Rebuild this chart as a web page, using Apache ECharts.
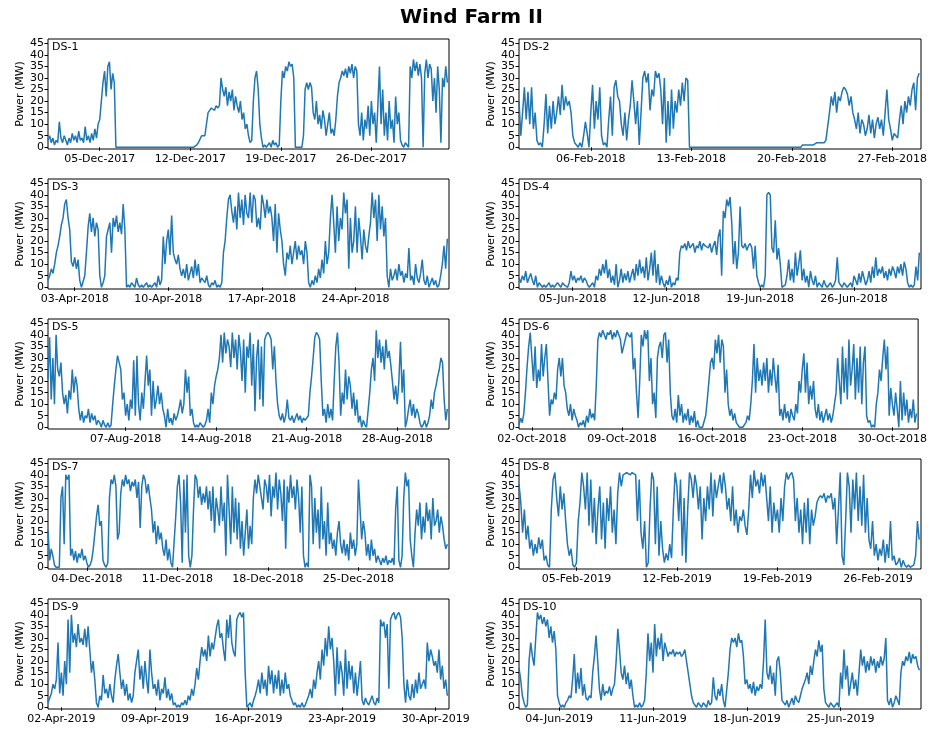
<!DOCTYPE html>
<html>
<head>
<meta charset="utf-8">
<title>Wind Farm II</title>
<script src="https://cdn.jsdelivr.net/npm/echarts@6/dist/echarts.min.js"></script>
<style>
  html, body { margin: 0; padding: 0; background: #fff; }
  #chart { width: 930px; height: 731px; }
</style>
</head>
<body>
<div id="chart"></div>
<script>
// Power output (MW), 8 samples per day (3-hourly), one row per day.
const ds1Power = [
  3,5,2,4,1,3,2,11,
  4,2,5,3,1,4,2,6,
  3,5,2,7,3,4,2,9,
  3,5,2,6,3,8,4,10,
  12,20,28,33,22,35,37,25,
  32,28,0,0,0,0,0,0,
  0,0,0,0,0,0,0,0,
  0,0,0,0,0,0,0,0,
  0,0,0,0,0,0,0,0,
  0,0,0,0,0,0,0,0,
  0,0,0,0,0,0,0,0,
  0,0,0,0.5,1,2,2,5,
  5,5,10,15,16,17,17,16,
  18,17,18,30,25,22,26,18,
  24,20,25,16,22,18,15,20,
  12,15,8,10,5,2,3,20,
  30,33,25,10,4,0,1,0,
  1,2,0,3,1,2,0,1,
  20,33,30,35,33,37,35,36,
  30,0,0,0,0,0,5,25,
  28,25,28,26,15,12,20,10,
  14,8,16,12,5,10,15,6,
  8,5,12,22,28,30,33,31,
  34,30,35,32,36,30,35,33,
  10,5,15,3,12,8,18,5,
  20,10,15,2,18,35,10,25,
  5,15,3,20,8,12,2,22,
  10,15,3,1,0,2,1,0,
  35,30,38,33,37,31,36,30,
  0,32,38,30,36,34,20,30,
  15,35,25,2,30,26,35,28
];
const ds2Power = [
  20,5,15,26,12,24,10,26,
  8,15,3,1,2,0,10,23,
  6,18,8,20,10,15,22,14,
  27,16,22,18,20,15,5,2,
  1,0,2,0,5,11,6,0,
  15,27,8,20,12,26,5,1,
  2,0,12,22,5,26,29,22,
  20,10,5,15,3,12,18,29,
  20,10,20,1,15,30,33,28,
  32,16,25,22,33,30,32,25,
  10,30,2,20,5,25,8,20,
  15,25,18,28,20,30,29,0,
  0,0,0,0,0,0,0,0,
  0,0,0,0,0,0,0,0,
  0,0,0,0,0,0,0,0,
  0,0,0,0,0,0,0,0,
  0,0,0,0,0,0,0,0,
  0,0,0,0,0,0,0,0,
  0,0,0,0,0,0,0,0,
  0,0,0,0,0,0,1,1,
  1,1,1,1,1,0.5,2,2,
  2,2,2,3,3,15,22,18,
  24,15,22,20,24,26,25,23,
  18,22,15,12,8,15,6,12,
  10,5,8,14,6,12,4,10,
  13,8,12,5,15,25,12,8,
  3,6,5,4,12,18,10,20,
  15,22,18,25,28,16,30,32
];
const ds3Power = [
  3,5,8,6,10,15,18,22,
  27,30,36,38,30,25,11,9,
  13,8,12,3,0,0,5,15,
  26,32,24,30,22,28,25,5,
  0,2,5,22,25,28,15,30,
  26,31,24,28,23,36,25,0,
  1,0,2,1,0,4,1,0,
  1,0,1,2,0,1,0,1,
  2,0,5,1,3,22,10,20,
  25,14,31,15,12,10,14,8,
  5,8,4,10,3,6,9,4,
  12,5,10,2,4,3,2,5,
  1,0,2,1,3,0,1,0,
  2,15,20,30,38,40,33,28,
  35,25,41,30,38,27,40,32,
  30,41,28,40,38,26,30,25,
  40,36,30,38,32,35,30,20,
  36,15,32,25,20,10,5,15,
  12,18,10,15,20,12,18,14,
  16,10,20,15,2,0,3,1,
  5,2,8,4,12,6,20,10,
  15,30,40,28,15,35,20,30,
  25,41,32,38,8,30,15,20,
  35,15,30,22,12,25,18,15,
  22,28,41,30,38,20,40,25,
  35,22,30,5,0,8,3,5,
  8,3,10,5,7,2,6,4,
  17,3,5,1,10,4,2,6,
  12,3,1,5,0,2,4,1,
  3,0,1,5,10,18,8,21
];
const ds4Power = [
  4,2,5,3,7,2,4,6,
  3,1,5,0,2,1,0,1,
  0,1,2,0,1,0,1,2,
  1,0,2,1,1,0,2,7,
  3,5,2,4,3,5,2,4,
  3,1,0,1,2,0,5,3,
  8,5,10,6,12,4,8,2,
  5,1,10,0,3,8,2,6,
  3,7,2,5,8,3,10,5,
  12,6,9,4,13,3,8,15,
  5,16,2,10,1,5,2,0,
  3,1,5,0,2,1,4,3,
  15,18,17,19,16,20,17,18,
  19,15,18,17,20,16,19,18,
  18,17,19,15,18,20,14,22,
  25,5,33,30,38,35,39,28,
  10,20,8,15,35,18,17,19,
  16,18,19,17,8,18,5,2,
  0,1,0,5,40,41,40,17,
  15,29,12,17,10,0,0,1,
  5,12,3,8,2,15,5,10,
  16,3,8,2,5,0,7,3,
  1,5,0,2,1,0,3,1,
  0,1,2,0,1,3,13,2,
  1,0,2,1,0,1,2,0,
  5,3,1,6,2,7,4,1,
  3,7,2,9,4,13,5,8,
  6,9,4,7,3,8,5,9,
  7,4,9,6,10,5,11,8,
  2,0,1,0,1,9,3,15
];
const ds5Power = [
  21,39,12,30,10,40,25,22,
  28,15,10,14,6,16,12,25,
  15,22,18,8,3,7,2,5,
  4,8,2,6,3,5,1,3,
  2,0,3,1,0,2,0,1,
  10,18,25,31,28,25,12,15,
  5,10,3,12,8,29,5,31,
  10,3,15,8,20,31,18,25,
  5,20,8,12,18,10,15,8,
  5,0,8,2,4,1,6,3,
  5,8,12,6,10,25,15,22,
  5,8,2,0,1,0,2,1,
  0,1,3,8,2,15,10,18,
  22,25,30,40,28,41,32,38,
  35,26,41,30,38,25,40,33,
  20,38,15,35,30,41,18,36,
  7,30,38,12,35,9,38,40,
  41,40,38,25,35,20,10,5,
  3,6,2,5,12,4,3,5,
  2,4,6,3,5,2,4,3,
  3,5,15,22,30,39,41,40,
  38,20,5,8,2,10,4,8,
  3,20,35,41,28,5,15,10,
  25,12,22,18,8,15,5,12,
  2,5,0,3,1,0,0,15,
  25,30,20,42,30,38,28,35,
  25,38,30,33,27,20,12,18,
  10,20,37,15,25,0,3,8,
  12,5,10,4,8,6,2,0,
  1,3,0,2,5,12,8,15,
  18,22,25,30,28,12,3,8
];
const ds6Power = [
  1,4,2,6,15,26,35,41,
  30,20,35,17,25,20,36,22,
  30,36,20,5,12,10,15,12,
  25,30,22,30,18,15,8,5,
  10,3,8,5,3,0,2,1,
  3,0,5,2,8,4,6,3,
  18,38,41,39,42,40,38,41,
  40,42,38,41,39,42,40,38,
  32,35,38,41,40,39,41,25,
  30,15,4,20,40,35,42,38,
  42,20,30,10,15,4,30,35,
  37,30,40,41,28,38,15,5,
  3,8,2,14,5,10,2,6,
  3,8,1,5,2,7,0,3,
  0,0,0,0,5,12,20,28,
  30,25,38,32,40,28,38,35,
  15,25,10,5,8,3,6,2,
  1,0,0,0,0,2,5,3,
  10,20,36,15,30,20,25,18,
  28,20,30,15,25,18,30,22,
  15,27,5,8,3,10,4,7,
  2,8,5,3,10,6,20,15,
  25,32,15,28,10,18,12,20,
  8,4,10,3,7,2,5,8,
  3,6,2,5,5,15,30,20,
  10,35,15,30,12,38,18,25,
  36,12,30,15,35,10,28,35,
  5,2,3,0,1,0,10,15,
  25,20,30,38,25,35,5,17,
  10,5,15,8,0,20,3,15,
  5,12,2,8,4,12,2,6
];
const ds7Power = [
  16,3,8,5,1,0,0,0,
  30,35,10,40,38,40,5,8,
  3,7,2,6,4,8,3,5,
  2,0,1,3,8,15,22,27,
  18,20,3,1,0,2,30,38,
  36,40,35,12,15,32,38,35,
  40,36,38,33,37,35,38,30,
  37,17,35,40,38,32,36,30,
  25,15,20,10,18,12,15,8,
  5,12,3,8,2,0,0,22,
  35,40,28,2,38,15,40,5,
  0,5,25,40,38,30,35,27,
  32,28,35,25,33,20,35,15,
  30,25,18,35,20,28,5,40,
  25,10,35,15,30,12,28,8,
  20,5,15,25,8,18,10,30,
  38,32,40,35,30,25,38,35,
  28,40,22,35,30,41,25,38,
  32,20,38,8,35,28,40,30,
  35,25,38,30,15,35,5,0,
  2,0,40,35,10,30,15,25,
  8,35,12,20,5,28,10,15,
  8,12,5,15,20,10,6,12,
  5,10,3,15,8,12,5,10,
  38,25,12,20,15,5,10,3,
  12,5,8,2,5,3,1,4,
  2,5,1,3,2,4,1,25,
  35,3,0,5,30,41,35,38,
  12,5,0,15,25,18,28,12,
  22,15,28,20,25,12,30,18,
  20,25,15,22,18,12,8,10
];
const ds8Power = [
  36,28,15,25,12,18,8,12,
  5,10,6,13,8,12,3,5,
  1,0,25,38,41,30,22,35,
  25,32,20,10,5,8,1,0,
  2,20,28,41,35,25,41,18,
  38,15,30,10,25,35,12,28,
  8,30,20,35,15,25,10,32,
  41,35,40,40,41,41,40,41,
  41,40,20,38,15,8,20,0,
  2,25,41,38,10,35,5,20,
  8,2,6,3,10,4,25,41,
  35,20,38,5,30,2,25,41,
  38,30,40,35,25,35,12,30,
  20,35,25,41,22,38,30,35,
  40,32,41,35,25,30,20,35,
  18,25,15,22,20,25,18,14,
  25,40,30,42,35,38,32,41,
  35,40,30,20,35,15,28,20,
  25,15,30,20,35,41,38,40,
  41,38,20,30,15,25,10,28,
  15,30,10,25,18,22,28,30,
  31,30,32,28,31,30,32,25,
  30,10,25,41,5,1,20,41,
  35,15,38,25,41,20,35,18,
  40,15,30,12,8,20,5,10,
  3,8,5,12,2,10,4,20,
  3,5,1,2,4,0,3,1,
  0,1,0,0,1,5,20,12
];
const ds9Power = [
  2,4,6,10,8,12,28,6,
  15,5,20,10,38,15,40,28,
  32,26,36,28,30,27,34,26,
  35,25,15,20,12,2,0,5,
  3,14,6,8,4,10,5,2,
  12,18,23,15,8,12,5,10,
  3,6,2,5,15,20,25,12,
  18,8,20,12,6,25,15,8,
  10,5,12,3,8,6,13,4,
  8,3,6,1,2,0,1,0,
  2,1,3,1,5,3,8,5,
  10,17,12,20,26,22,25,20,
  31,22,28,25,30,35,38,30,
  32,25,20,38,30,40,28,24,
  22,38,40,41,39,41,15,0,
  1,2,0,3,5,8,12,6,
  15,8,12,5,18,10,16,6,
  14,8,16,5,12,6,15,8,
  10,5,3,1,2,0,1,0,
  2,0,1,3,5,8,4,12,
  8,15,20,12,25,18,30,22,
  35,25,30,20,5,26,10,20,
  15,5,25,8,20,12,18,6,
  15,5,12,20,3,1,4,2,
  1,3,5,2,1,4,2,38,
  35,37,30,36,8,38,40,41,
  38,40,41,39,30,10,2,12,
  5,3,10,4,12,6,15,8,
  10,12,8,28,20,25,22,18,
  20,15,25,12,18,8,12,5
];
const ds10Power = [
  17,12,5,2,0,1,20,28,
  22,18,30,41,38,40,36,39,
  35,38,30,35,28,33,25,5,
  2,0,1,0,2,3,5,4,
  12,23,6,15,8,17,5,10,
  4,3,5,4,15,22,31,20,
  8,3,10,5,7,6,9,5,
  8,10,20,34,25,15,12,18,
  10,15,8,12,5,0,1,0,
  2,0,1,3,15,32,20,28,
  15,36,22,30,25,32,20,28,
  25,22,24,23,25,22,24,23,
  24,22,23,25,20,15,10,5,
  2,1,0,2,1,0,2,1,
  0,3,1,2,13,5,3,8,
  5,10,3,0,0,15,25,30,
  28,30,26,32,28,29,22,10,
  12,8,10,6,11,5,9,7,
  10,8,20,38,15,12,18,10,
  15,5,20,22,15,3,2,1,
  3,0,2,4,1,5,3,2,
  5,8,10,12,15,10,18,14,
  20,25,22,29,24,27,8,2,
  1,0,2,1,0,1,2,0,
  15,8,25,12,18,5,10,15,
  8,12,5,15,25,18,22,15,
  20,16,22,18,21,15,20,17,
  22,18,21,30,3,1,4,0,
  2,5,3,1,15,20,18,22,
  20,24,19,23,21,22,18,16
];

// Weekly date ticks for each dataset (day-of-month gives the offset).
const ds1Ticks = ['05-Dec-2017', '12-Dec-2017', '19-Dec-2017', '26-Dec-2017'];
const ds2Ticks = ['06-Feb-2018', '13-Feb-2018', '20-Feb-2018', '27-Feb-2018'];
const ds3Ticks = ['03-Apr-2018', '10-Apr-2018', '17-Apr-2018', '24-Apr-2018'];
const ds4Ticks = ['05-Jun-2018', '12-Jun-2018', '19-Jun-2018', '26-Jun-2018'];
const ds5Ticks = ['07-Aug-2018', '14-Aug-2018', '21-Aug-2018', '28-Aug-2018'];
const ds6Ticks = ['02-Oct-2018', '09-Oct-2018', '16-Oct-2018', '23-Oct-2018', '30-Oct-2018'];
const ds7Ticks = ['04-Dec-2018', '11-Dec-2018', '18-Dec-2018', '25-Dec-2018'];
const ds8Ticks = ['05-Feb-2019', '12-Feb-2019', '19-Feb-2019', '26-Feb-2019'];
const ds9Ticks = ['02-Apr-2019', '09-Apr-2019', '16-Apr-2019', '23-Apr-2019', '30-Apr-2019'];
const ds10Ticks = ['04-Jun-2019', '11-Jun-2019', '18-Jun-2019', '25-Jun-2019'];

const powerTicks = [0, 5, 10, 15, 20, 25, 30, 35, 40, 45];
const samplesPerDay = 8;

const datasets = [
  { name: 'DS-1',  days: 31, ticks: ds1Ticks,  values: ds1Power },
  { name: 'DS-2',  days: 28, ticks: ds2Ticks,  values: ds2Power },
  { name: 'DS-3',  days: 30, ticks: ds3Ticks,  values: ds3Power },
  { name: 'DS-4',  days: 30, ticks: ds4Ticks,  values: ds4Power },
  { name: 'DS-5',  days: 31, ticks: ds5Ticks,  values: ds5Power },
  { name: 'DS-6',  days: 31, ticks: ds6Ticks,  values: ds6Power },
  { name: 'DS-7',  days: 31, ticks: ds7Ticks,  values: ds7Power },
  { name: 'DS-8',  days: 28, ticks: ds8Ticks,  values: ds8Power },
  { name: 'DS-9',  days: 30, ticks: ds9Ticks,  values: ds9Power },
  { name: 'DS-10', days: 30, ticks: ds10Ticks, values: ds10Power }
];

// Panel geometry: two columns, five rows.
const colLeft = [48, 519];
const colWidth = [401, 402];
const rowTop = [39, 179, 319, 459, 599];
const panelHeight = 110;
const font = 'DejaVu Sans, sans-serif';
const lineColor = '#1f77b4';

const grids = [], xAxes = [], yAxes = [], series = [], graphics = [];

datasets.forEach((ds, i) => {
  const col = i % 2, row = Math.floor(i / 2);
  const left = colLeft[col], top = rowTop[row];
  grids.push({
    left: left, top: top, width: colWidth[col], height: panelHeight,
    show: true, borderColor: '#000', borderWidth: 1, backgroundColor: 'transparent'
  });

  const tickDays = ds.ticks.map(t => parseInt(t.slice(0, 2), 10) - 1);
  const tickText = {};
  tickDays.forEach((d, k) => { tickText[d] = ds.ticks[k]; });

  xAxes.push({
    type: 'value', gridIndex: i, min: 0, max: ds.days,
    axisLine: { show: false },
    splitLine: { show: false },
    axisTick: {
      show: true, inside: false, length: 3.5, customValues: tickDays,
      lineStyle: { color: '#000', width: 1 }
    },
    axisLabel: {
      show: true, customValues: tickDays, margin: 5,
      color: '#000', fontFamily: font, fontSize: 11,
      formatter: v => tickText[Math.round(v)] || ''
    }
  });

  yAxes.push({
    type: 'value', gridIndex: i, min: -0.74, max: 46.86,
    name: 'Power (MW)', nameLocation: 'middle', nameGap: 20, nameRotate: 90,
    nameTextStyle: { color: '#000', fontFamily: font, fontSize: 11 },
    axisLine: { show: false },
    splitLine: { show: false },
    axisTick: {
      show: true, inside: false, length: 3.5, customValues: powerTicks,
      lineStyle: { color: '#000', width: 1 }
    },
    axisLabel: {
      show: true, customValues: powerTicks, margin: 4,
      color: '#000', fontFamily: font, fontSize: 11
    }
  });

  series.push({
    name: ds.name, type: 'line', xAxisIndex: i, yAxisIndex: i,
    data: ds.values.map((v, k) => [k / samplesPerDay, v]),
    showSymbol: false, symbol: 'none', sampling: null, clip: true,
    lineStyle: { color: lineColor, width: 1.5 },
    emphasis: { disabled: true }
  });

  graphics.push({
    type: 'text', left: left + 4, top: top + 3, silent: true,
    style: { text: ds.name, fill: '#000', font: '11px ' + font }
  });
});

graphics.push({
  type: 'text', left: 400, top: 8, silent: true,
  style: { text: 'Wind Farm II', fill: '#000', font: 'bold 20px ' + font }
});

const chart = echarts.init(document.getElementById('chart'), null, { renderer: 'canvas' });
chart.setOption({
  animation: false,
  backgroundColor: '#fff',
  grid: grids,
  xAxis: xAxes,
  yAxis: yAxes,
  series: series,
  graphic: graphics
});
</script>
</body>
</html>
